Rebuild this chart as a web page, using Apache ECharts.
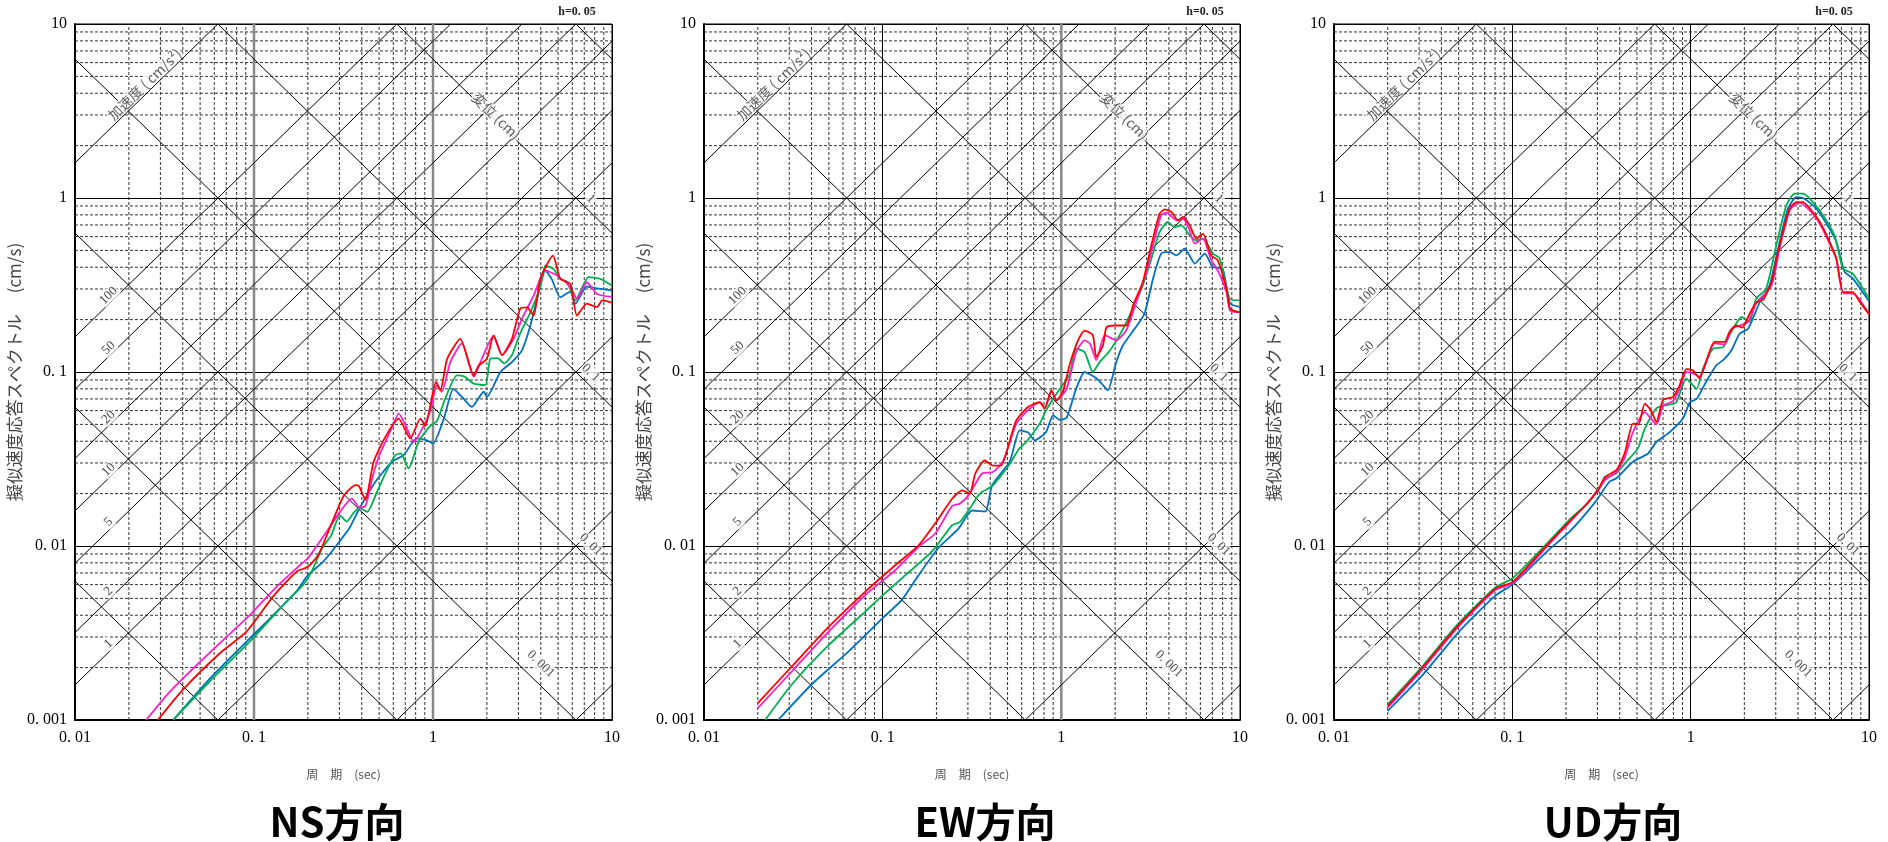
<!DOCTYPE html>
<html>
<head>
<meta charset="utf-8">
<script src="https://cdn.jsdelivr.net/npm/echarts@6/dist/echarts.min.js"></script>
<style>
html, body { margin: 0; padding: 0; background: #fff; }
#chart { width: 1888px; height: 842px; }
</style>
</head>
<body>
<div id="chart"></div>
<script>
// 周期(sec), 擬似速度(cm/s) の組 — 各パネルから読み取り
const nsRed = [[0.029,0.001],[0.04,0.00149],[0.0645,0.00242],[0.091,0.00323],[0.128,0.00513],[0.173,0.00713],[0.2,0.0076],[0.229,0.0089],[0.266,0.0128],[0.317,0.0194],[0.37,0.0224],[0.385,0.0222],[0.419,0.0184],[0.466,0.0305],[0.542,0.0424],[0.643,0.054],[0.747,0.0415],[0.85,0.054],[0.906,0.049],[0.966,0.064],[1.04,0.0877],[1.1,0.0785],[1.2,0.119],[1.42,0.155],[1.69,0.0957],[1.8,0.109],[2.0,0.119],[2.18,0.162],[2.43,0.125],[2.76,0.155],[3.07,0.231],[3.35,0.235],[3.65,0.211],[3.98,0.343],[4.68,0.467],[5.14,0.343],[5.85,0.321],[6.37,0.211],[7.24,0.247],[8.24,0.236],[8.83,0.258],[10,0.25]]
const nsMagenta = [[0.025,0.001],[0.034,0.00146],[0.0479,0.00207],[0.0675,0.00289],[0.095,0.00402],[0.134,0.00585],[0.181,0.00778],[0.2,0.0085],[0.255,0.0121],[0.302,0.0157],[0.352,0.0187],[0.39,0.0166],[0.42,0.017],[0.46,0.025],[0.5,0.033],[0.55,0.041],[0.6,0.05],[0.643,0.0577],[0.7,0.05],[0.78,0.0396],[0.887,0.049],[0.966,0.06],[1.05,0.0838],[1.12,0.077],[1.25,0.114],[1.45,0.146],[1.69,0.0937],[1.84,0.114],[2.18,0.162],[2.43,0.125],[2.82,0.155],[3.14,0.202],[3.65,0.275],[4.24,0.383],[4.94,0.358],[5.85,0.307],[6.37,0.264],[7.24,0.328],[8.24,0.281],[10,0.27]]
const nsGreen = [[0.0354,0.001],[0.0567,0.00167],[0.095,0.00283],[0.146,0.00459],[0.188,0.00597],[0.21,0.00713],[0.24,0.0097],[0.27,0.0115],[0.302,0.015],[0.33,0.0138],[0.36,0.0155],[0.39,0.0165],[0.428,0.0157],[0.487,0.0205],[0.55,0.027],[0.616,0.0333],[0.66,0.034],[0.73,0.0279],[0.83,0.0396],[0.966,0.049],[1.05,0.052],[1.17,0.0703],[1.36,0.0957],[1.5,0.094],[1.69,0.0857],[1.96,0.084],[2.09,0.119],[2.3,0.12],[2.5,0.112],[2.76,0.125],[2.95,0.15],[3.14,0.175],[3.5,0.22],[3.98,0.31],[4.24,0.41],[4.72,0.39],[5.14,0.343],[5.6,0.33],[6.24,0.258],[7.4,0.351],[8.6,0.343],[10,0.314]]
const nsBlue = [[0.0354,0.001],[0.057,0.00174],[0.095,0.00295],[0.146,0.00459],[0.173,0.0055],[0.2,0.0068],[0.24,0.008],[0.27,0.0092],[0.3,0.0106],[0.34,0.0126],[0.393,0.0168],[0.477,0.0234],[0.59,0.0305],[0.686,0.0333],[0.81,0.0415],[0.925,0.0405],[1.0,0.0388],[1.15,0.054],[1.3,0.08],[1.45,0.072],[1.65,0.063],[1.92,0.077],[2.0,0.072],[2.38,0.1],[2.76,0.114],[3.14,0.133],[3.5,0.185],[3.9,0.288],[4.24,0.383],[4.6,0.343],[5.14,0.269],[5.85,0.29],[6.24,0.247],[7.24,0.31],[8.6,0.3],[10,0.294]]

const ewRed = [[0.02,0.00125],[0.031,0.00203],[0.05,0.00344],[0.08,0.00547],[0.118,0.00778],[0.159,0.0101],[0.197,0.0135],[0.245,0.0187],[0.279,0.0209],[0.307,0.02],[0.33,0.0261],[0.372,0.031],[0.414,0.029],[0.46,0.029],[0.525,0.0433],[0.56,0.0528],[0.65,0.063],[0.757,0.067],[0.807,0.0618],[0.88,0.0785],[0.937,0.0686],[1.02,0.0769],[1.11,0.109],[1.24,0.152],[1.35,0.173],[1.5,0.163],[1.57,0.122],[1.71,0.142],[1.79,0.181],[2.03,0.185],[2.31,0.185],[2.52,0.242],[2.86,0.329],[3.19,0.535],[3.55,0.813],[3.79,0.86],[4.13,0.831],[4.5,0.744],[4.8,0.778],[5.23,0.696],[5.7,0.584],[6.2,0.624],[6.9,0.468],[7.5,0.439],[8.4,0.301],[8.8,0.231],[10,0.22]]
const ewMagenta = [[0.02,0.00117],[0.031,0.0019],[0.05,0.00323],[0.08,0.00523],[0.118,0.00728],[0.159,0.0099],[0.197,0.0118],[0.245,0.017],[0.27,0.0175],[0.303,0.0196],[0.36,0.0261],[0.414,0.0266],[0.47,0.0305],[0.56,0.0505],[0.636,0.059],[0.757,0.067],[0.807,0.062],[0.88,0.078],[0.937,0.069],[1.07,0.08],[1.21,0.13],[1.35,0.152],[1.45,0.145],[1.57,0.117],[1.75,0.163],[2.03,0.152],[2.31,0.174],[2.63,0.253],[2.99,0.376],[3.33,0.584],[3.62,0.795],[3.87,0.823],[4.4,0.744],[4.8,0.76],[5.2,0.66],[5.58,0.547],[6.2,0.584],[6.9,0.439],[7.5,0.384],[8.4,0.288],[8.8,0.226],[10,0.22]]
const ewGreen = [[0.022,0.001],[0.031,0.0016],[0.05,0.0027],[0.08,0.0042],[0.1,0.0052],[0.134,0.0068],[0.189,0.0093],[0.245,0.0132],[0.27,0.0137],[0.307,0.0164],[0.35,0.02],[0.414,0.0223],[0.514,0.0296],[0.578,0.036],[0.636,0.0397],[0.757,0.0505],[0.82,0.06],[0.98,0.08],[1.11,0.096],[1.21,0.136],[1.35,0.13],[1.5,0.1],[1.64,0.114],[1.87,0.133],[2.12,0.163],[2.52,0.232],[2.86,0.315],[3.19,0.448],[3.55,0.638],[3.95,0.728],[4.3,0.681],[4.7,0.696],[5.23,0.61],[5.7,0.57],[6.2,0.584],[7.05,0.479],[7.7,0.45],[8.75,0.264],[10,0.258]]
const ewBlue = [[0.026,0.001],[0.04,0.0016],[0.0645,0.00248],[0.1,0.00385],[0.128,0.0049],[0.159,0.0068],[0.206,0.0098],[0.266,0.0126],[0.317,0.016],[0.376,0.0158],[0.41,0.0224],[0.514,0.0305],[0.585,0.0462],[0.65,0.045],[0.71,0.0405],[0.82,0.0451],[0.9,0.0564],[0.98,0.0531],[1.07,0.0546],[1.21,0.08],[1.35,0.1],[1.57,0.092],[1.71,0.084],[1.82,0.0786],[2.03,0.114],[2.21,0.142],[2.57,0.177],[2.92,0.216],[3.26,0.344],[3.62,0.479],[4.04,0.49],[4.4,0.468],[4.9,0.511],[5.2,0.47],[5.58,0.42],[6.35,0.479],[7.05,0.401],[8.0,0.392],[8.8,0.247],[10,0.237]]

const udRed = [[0.02,0.0012],[0.0312,0.00199],[0.05,0.00352],[0.0806,0.00571],[0.1,0.0062],[0.124,0.00778],[0.16,0.0104],[0.208,0.0138],[0.258,0.0172],[0.306,0.0214],[0.33,0.0249],[0.383,0.0273],[0.426,0.034],[0.475,0.0505],[0.51,0.05],[0.553,0.0658],[0.6,0.06],[0.642,0.0516],[0.7,0.069],[0.796,0.072],[0.868,0.084],[0.945,0.104],[1.03,0.102],[1.12,0.092],[1.22,0.114],[1.36,0.149],[1.55,0.149],[1.65,0.17],[1.8,0.185],[1.95,0.18],[2.1,0.207],[2.33,0.252],[2.55,0.26],[2.84,0.329],[3.15,0.535],[3.59,0.869],[3.91,0.948],[4.26,0.948],[4.75,0.85],[5.3,0.728],[5.9,0.584],[6.56,0.448],[7.15,0.288],[8.1,0.288],[8.9,0.252],[10,0.215]]
const udMagenta = [[0.02,0.00118],[0.0312,0.00195],[0.05,0.00345],[0.0806,0.0056],[0.1,0.0061],[0.124,0.0076],[0.16,0.0102],[0.208,0.0136],[0.258,0.0172],[0.306,0.0212],[0.33,0.0239],[0.383,0.0266],[0.426,0.032],[0.475,0.0452],[0.553,0.0588],[0.642,0.05],[0.7,0.064],[0.796,0.068],[0.868,0.08],[0.945,0.1],[1.03,0.098],[1.12,0.094],[1.36,0.146],[1.55,0.144],[1.7,0.177],[2.1,0.194],[2.33,0.248],[2.84,0.315],[3.15,0.51],[3.59,0.85],[4.05,0.94],[4.75,0.83],[5.3,0.71],[5.9,0.57],[6.56,0.448],[7.2,0.283],[8.1,0.283],[10,0.215]]
const udGreen = [[0.02,0.00123],[0.0312,0.00203],[0.05,0.0036],[0.0806,0.0058],[0.1,0.0065],[0.16,0.0106],[0.208,0.0141],[0.27,0.018],[0.334,0.0245],[0.383,0.0262],[0.436,0.0305],[0.506,0.0364],[0.553,0.0472],[0.642,0.0618],[0.73,0.0645],[0.83,0.067],[0.945,0.0917],[1.08,0.08],[1.17,0.104],[1.33,0.136],[1.52,0.139],[1.65,0.162],[1.93,0.207],[2.14,0.194],[2.33,0.264],[2.65,0.301],[3.02,0.535],[3.44,0.907],[3.83,1.06],[4.26,1.06],[4.75,0.97],[5.52,0.795],[6.4,0.61],[7.15,0.393],[8.1,0.368],[10,0.265]]
const udBlue = [[0.02,0.00113],[0.0312,0.0018],[0.05,0.0032],[0.0806,0.0052],[0.1,0.006],[0.16,0.0095],[0.208,0.012],[0.293,0.018],[0.35,0.0234],[0.383,0.0245],[0.475,0.0305],[0.577,0.034],[0.642,0.0396],[0.76,0.045],[0.905,0.054],[0.99,0.067],[1.08,0.07],[1.22,0.0877],[1.39,0.109],[1.52,0.117],[1.69,0.133],[1.88,0.166],[2.1,0.177],[2.44,0.252],[2.77,0.315],[3.09,0.512],[3.51,0.869],[3.91,1.01],[4.35,0.99],[5.06,0.87],[6.0,0.667],[6.6,0.55],[7.3,0.376],[8.1,0.345],[10,0.255]]

// 目盛
const xTicks = [0.01, 0.1, 1, 10]
const xTickText = ['0. 01', '0. 1', '1', '10']
const yTicks = [0.001, 0.01, 0.1, 1, 10]
const yTickText = ['0. 001', '0. 01', '0. 1', '1', '10']
const minorSteps = [2, 3, 4, 5, 6, 7, 8, 9]
// 斜め線 (加速度 cm/s2, 変位 cm)
const accLines = [0.001, 0.01, 0.1, 1, 2, 5, 10, 20, 50, 100, 1000]
const dispLines = [0.00001, 0.0001, 0.001, 0.01, 0.1, 1, 10]
const accLabelText = ['100', '50', '20', '10', '5', '2', '1']
const accLabelValue = [100, 50, 20, 10, 5, 2, 1]
const dispLabelText = ['1', '0. 1', '0. 01', '0. 001']
const dispLabelPos = [[7.6, 0.99], [7.6, 0.099], [7.6, 0.0102], [4.0, 0.0021]]

const colors = ['#0070c0', '#00b050', '#ff1fc8', '#ff0000']

const panels = [
  { title: 'NS方向', left: 75, width: 537, titleX: 337, curves: [nsBlue, nsGreen, nsMagenta, nsRed], grayLines: [0.1, 1] },
  { title: 'EW方向', left: 704, width: 536, titleX: 985, curves: [ewBlue, ewGreen, ewMagenta, ewRed], grayLines: [1] },
  { title: 'UD方向', left: 1334, width: 535, titleX: 1613, curves: [udBlue, udGreen, udMagenta, udRed], grayLines: [] }
]

const TWO_PI = 2 * Math.PI
const serif = '"Liberation Serif", "DejaVu Serif", serif'
const jp = '"Noto Sans CJK JP", sans-serif'

function tickText (v, ticks, texts) {
  for (let i = 0; i < ticks.length; i++) {
    if (Math.abs(Math.log10(v) - Math.log10(ticks[i])) < 1e-6) return texts[i]
  }
  return ''
}

function accSegment (sa) {
  const t1 = Math.max(0.01, 0.001 * TWO_PI / sa)
  const t2 = Math.min(10, 10 * TWO_PI / sa)
  if (t1 >= t2) return null
  return [[t1, sa * t1 / TWO_PI], [t2, sa * t2 / TWO_PI]]
}

function dispSegment (sd) {
  const t1 = Math.max(0.01, TWO_PI * sd / 10)
  const t2 = Math.min(10, TWO_PI * sd / 0.001)
  if (t1 >= t2) return null
  return [[t1, TWO_PI * sd / t1], [t2, TWO_PI * sd / t2]]
}

const grids = []
const xAxes = []
const yAxes = []
const series = []
const graphics = []

panels.forEach((p, i) => {
  grids.push({ left: p.left, top: 24, width: p.width, height: 696, show: true, borderColor: '#000', borderWidth: 1 })
  xAxes.push({
    type: 'log', logBase: 10, min: 0.01, max: 10, gridIndex: i,
    axisLine: { show: true, lineStyle: { color: '#000', width: 2 } },
    axisTick: { show: false },
    axisLabel: { formatter: v => tickText(v, xTicks, xTickText), fontFamily: serif, fontSize: 16, color: '#000', margin: 10 },
    splitLine: { show: true, lineStyle: { color: '#000', width: 1 } },
    name: '周　期　(sec)', nameLocation: 'middle', nameGap: 48,
    nameTextStyle: { fontSize: 12, color: '#555', fontFamily: jp }
  })
  yAxes.push({
    type: 'log', logBase: 10, min: 0.001, max: 10, gridIndex: i,
    axisLine: { show: true, lineStyle: { color: '#000', width: 2 } },
    axisTick: { show: false },
    axisLabel: { formatter: v => tickText(v, yTicks, yTickText), fontFamily: serif, fontSize: 16, color: '#000', margin: 8 },
    splitLine: { show: true, lineStyle: { color: '#000', width: 1 } },
    name: '擬似速度応答スペクトル　 (cm/s)', nameLocation: 'middle', nameGap: 48,
    nameTextStyle: { fontSize: 17, color: '#444', fontFamily: jp }
  })

  const base = { type: 'line', xAxisIndex: i, yAxisIndex: i, showSymbol: false, symbol: 'none', silent: true, animation: false }
  // 補助目盛 (破線)
  for (let d = -2; d <= 0; d++) {
    minorSteps.forEach(k => {
      const v = k * Math.pow(10, d)
      series.push(Object.assign({}, base, { data: [[v, 0.001], [v, 10]], lineStyle: { color: '#333', width: 1, type: [3, 2] } }))
    })
  }
  for (let d = -3; d <= 0; d++) {
    minorSteps.forEach(k => {
      const v = k * Math.pow(10, d)
      series.push(Object.assign({}, base, { data: [[0.01, v], [10, v]], lineStyle: { color: '#333', width: 1, type: [3, 2] } }))
    })
  }
  p.grayLines.forEach(v => {
    series.push(Object.assign({}, base, { data: [[v, 0.001], [v, 10]], lineStyle: { color: '#888', width: 2.5 } }))
  })
  // 斜め線
  accLines.forEach(sa => {
    const seg = accSegment(sa)
    if (seg) series.push(Object.assign({}, base, { data: seg, lineStyle: { color: '#000', width: 1 } }))
  })
  dispLines.forEach(sd => {
    const seg = dispSegment(sd)
    if (seg) series.push(Object.assign({}, base, { data: seg, lineStyle: { color: '#000', width: 1 } }))
  })
  // 斜め線のラベル
  const labelData = accLabelText.map((t, j) => {
    const T = 0.0154
    return { name: t, value: [T, accLabelValue[j] * T / TWO_PI * 1.12], label: { rotate: 44 } }
  })
  dispLabelText.forEach((t, j) => {
    labelData.push({ name: t, value: dispLabelPos[j], label: { rotate: -44 } })
  })
  labelData.push({ name: '加速度 ( cm/s²)', value: [0.0245, 4.5], label: { rotate: 44, color: '#333', fontSize: 14, fontFamily: jp } })
  labelData.push({ name: '変位 (cm)', value: [2.26, 2.95], label: { rotate: -44, color: '#333', fontSize: 14, fontFamily: jp } })
  series.push({
    type: 'scatter', xAxisIndex: i, yAxisIndex: i, silent: true, animation: false,
    symbolSize: 1, itemStyle: { color: 'rgba(0,0,0,0)' },
    label: { show: true, position: 'inside', formatter: '{b}', fontFamily: serif, fontSize: 13, color: '#111', backgroundColor: '#fff', padding: [0, 1] },
    data: labelData, z: 4
  })
  // スペクトル
  p.curves.forEach((c, j) => {
    series.push(Object.assign({}, base, { data: c, smooth: 0.2, z: 5, lineStyle: { color: colors[j], width: 1.8 } }))
  })

  graphics.push({ type: 'text', x: p.left + p.width - 35, y: 12, style: { text: 'h=0. 05', font: 'bold 12px ' + serif, fill: '#222', align: 'center', verticalAlign: 'middle', textAlign: 'center', textVerticalAlign: 'middle' } })
  graphics.push({ type: 'text', x: p.titleX, y: 822, style: { text: p.title, font: 'bold 40px ' + jp, fill: '#000', align: 'center', verticalAlign: 'middle', textAlign: 'center', textVerticalAlign: 'middle' } })
})

const chart = echarts.init(document.getElementById('chart'))
chart.setOption({
  animation: false,
  backgroundColor: '#fff',
  grid: grids,
  xAxis: xAxes,
  yAxis: yAxes,
  series: series,
  graphic: graphics
})
</script>
</body>
</html>
